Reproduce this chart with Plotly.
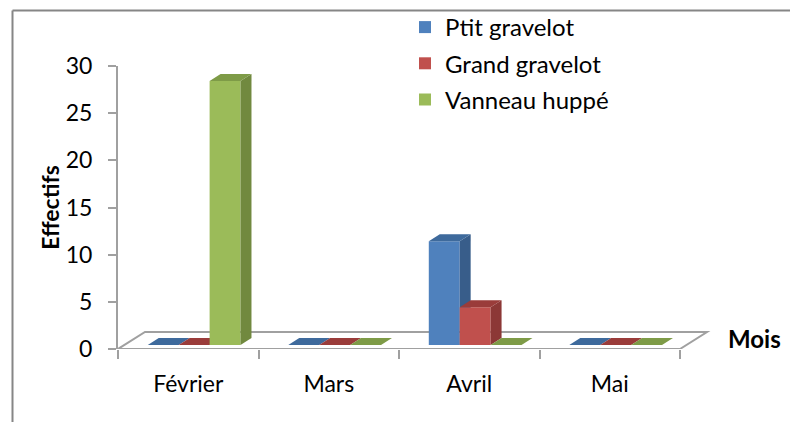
import plotly.graph_objects as go

# ── Data ───────────────────────────────────────────────────────────────────
months = ['Février', 'Mars', 'Avril', 'Mai']
series = ['Ptit gravelot', 'Grand gravelot', 'Vanneau huppé']
ptit_gravelot = [0, 0, 11, 0]
grand_gravelot = [0, 0, 4, 0]
vanneau_huppe = [28, 0, 0, 0]
y_ticks = [0, 5, 10, 15, 20, 25, 30]

values = [ptit_gravelot, grand_gravelot, vanneau_huppe]

# ── Style (Excel 2007 3-D column look) ─────────────────────────────────────
FRONT = ['#4F81BD', '#C0504D', '#9BBB59']
SIDE = ['#385D8A', '#8C3836', '#71893F']
TOP = ['#3E6A9C', '#9A3C3A', '#7E9B47']
GRID = '#A0A0A0'
FONT = 'Lato, sans-serif'

# fake perspective, in data units
W = 0.22                      # bar width
OFFS = [-0.333, -0.113, 0.107]
SHIFT_X, SHIFT_Y = 0.045, 0.42  # bars sit a little behind the floor front edge
DX, DY = 0.078, 0.74          # bar depth
FX, FY = 0.192, 1.80          # floor depth

X_RANGE = [-0.5, -0.5 + 600 / 140.5]
Y_RANGE = [0, 30]

fig = go.Figure()


def faces(vals, s):
    sx, sy, tx, ty = [], [], [], []
    for c, v in enumerate(vals):
        x0 = c + OFFS[s] + SHIFT_X
        x1 = x0 + W
        yb, yt = SHIFT_Y, SHIFT_Y + v
        if v > 0:
            sx += [x1, x1 + DX, x1 + DX, x1, x1, None]
            sy += [yb, yb + DY, yt + DY, yt, yb, None]
        tx += [x0, x1, x1 + DX, x0 + DX, x0, None]
        ty += [yt, yt, yt + DY, yt + DY, yt, None]
    return sx, sy, tx, ty


for s, name in enumerate(series):
    xa = 'x' if s == 0 else f'x{s + 1}'
    ya = 'y' if s == 0 else f'y{s + 1}'
    fig.add_trace(go.Bar(
        x=list(range(len(months))), y=values[s], base=SHIFT_Y,
        offset=OFFS[s] + SHIFT_X, width=W,
        name=name, legendgroup=name,
        marker=dict(color=FRONT[s], line=dict(width=0)),
        xaxis=xa, yaxis=ya, hoverinfo='skip',
    ))
    sx, sy, tx, ty = faces(values[s], s)
    if sx:
        fig.add_trace(go.Scatter(
            x=sx, y=sy, fill='toself', mode='lines', fillcolor=SIDE[s],
            line=dict(width=0, color=SIDE[s]), showlegend=False,
            xaxis=xa, yaxis=ya, hoverinfo='skip',
        ))
    fig.add_trace(go.Scatter(
        x=tx, y=ty, fill='toself', mode='lines', fillcolor=TOP[s],
        line=dict(width=0, color=TOP[s]), showlegend=False,
        xaxis=xa, yaxis=ya, hoverinfo='skip',
    ))

# floor
fig.add_shape(
    type='path', xref='x', yref='y', layer='below',
    path=(f'M {X_RANGE[0]},0 L 3.5,0 L {3.5 + FX},{FY} '
          f'L {X_RANGE[0] + FX},{FY} Z'),
    line=dict(color=GRID, width=2), fillcolor='white',
)

# chart frame (only top and left edges are visible in the crop)
fig.add_shape(type='line', xref='paper', yref='paper',
              x0=(12.5 - 118) / 600, x1=1.2, y0=(349 - 10.5) / 283, y1=(349 - 10.5) / 283,
              line=dict(color='#868686', width=2))
fig.add_shape(type='line', xref='paper', yref='paper',
              x0=(12.5 - 118) / 600, x1=(12.5 - 118) / 600, y0=(349 - 10.5) / 283, y1=-0.3,
              line=dict(color='#868686', width=2))

fig.add_annotation(text='<b>Mois</b>', xref='paper', yref='paper',
                   x=(754 - 118) / 600, y=(349 - 338) / 283, showarrow=False,
                   xanchor='center', yanchor='middle',
                   font=dict(family=FONT, size=24, color='black'))

hidden = dict(visible=False, fixedrange=True)
fig.update_layout(
    width=790, height=422,
    margin=dict(l=118, r=72, t=66, b=73, autoexpand=False),
    paper_bgcolor='white', plot_bgcolor='white',
    font=dict(family=FONT, color='black', size=23),
    barmode='overlay', hovermode=False,
    xaxis=dict(range=X_RANGE, tickvals=list(range(len(months))), ticktext=months,
               ticks='', showgrid=False, zeroline=False, showline=False,
               ticklabelstandoff=19, tickfont=dict(size=23), fixedrange=True,
               minor=dict(tickvals=[-0.5, 0.5, 1.5, 2.5, 3.5], ticks='outside',
                          ticklen=9, tickcolor=GRID, tickwidth=2, showgrid=False)),
    yaxis=dict(range=Y_RANGE, tickvals=y_ticks, ticks='outside', ticklen=8,
               tickcolor=GRID, tickwidth=2, showline=True, linecolor=GRID, linewidth=2,
               showgrid=False, zeroline=False, tickfont=dict(size=23),
               ticklabelstandoff=11, fixedrange=True,
               title=dict(text='<b>Effectifs</b>', font=dict(size=23), standoff=0)),
    xaxis2=dict(hidden, range=X_RANGE, overlaying='x'),
    yaxis2=dict(hidden, range=Y_RANGE, overlaying='y'),
    xaxis3=dict(hidden, range=X_RANGE, overlaying='x'),
    yaxis3=dict(hidden, range=Y_RANGE, overlaying='y'),
    legend=dict(x=(405 - 118) / 600, y=(349 - 5) / 283, xanchor='left', yanchor='top',
                bgcolor='rgba(0,0,0,0)', font=dict(size=24), traceorder='grouped',
                tracegroupgap=2),
)

fig.write_html('out.html', config={'displayModeBar': False},
               post_script="document.body.style.margin='0';")
